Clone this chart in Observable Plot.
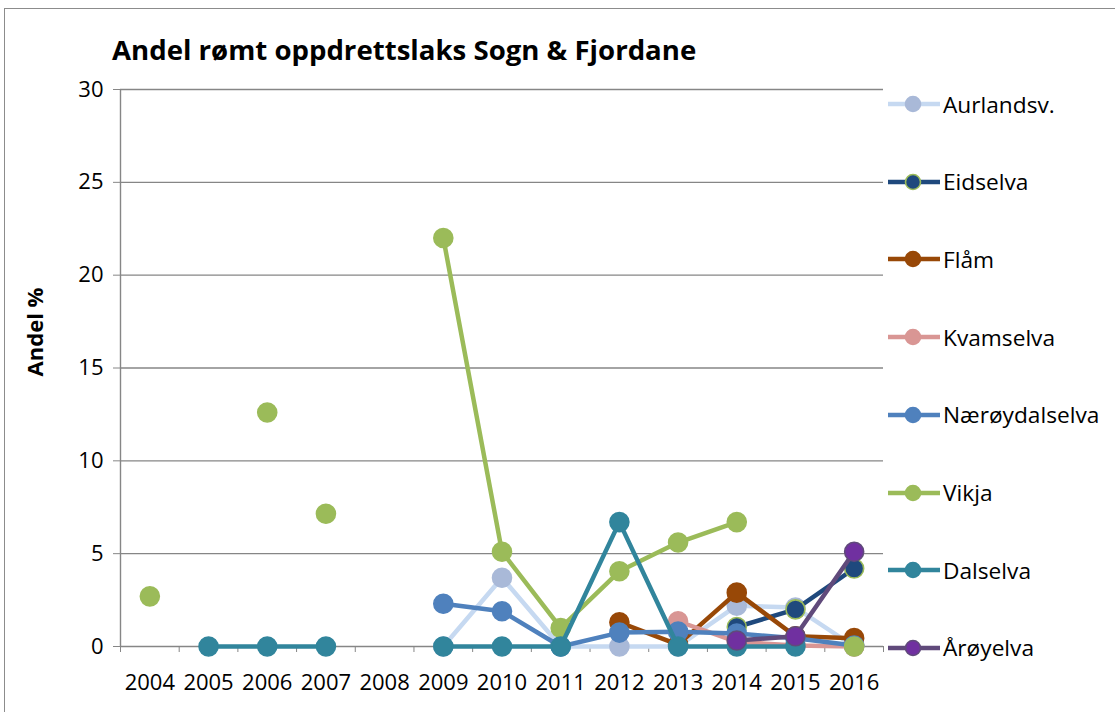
<!DOCTYPE html>
<html>
<head>
<meta charset="utf-8">
<script src="https://cdn.jsdelivr.net/npm/d3@7"></script>
<script src="https://cdn.jsdelivr.net/npm/@observablehq/plot@0.6"></script>
<style>
  html, body { margin: 0; padding: 0; background: #fff; }
  body { width: 1115px; height: 712px; position: relative; overflow: hidden; font-family: "Open Sans", sans-serif; }
  #frame { position: absolute; left: 4px; top: 8px; width: 1120px; height: 720px; border: 1px solid #8c8c8c; box-sizing: border-box; }
  #title { position: absolute; left: 112px; top: 30px; font-size: 27.6px; font-weight: bold; color: #000; white-space: nowrap; }
  #chart { position: absolute; left: 0; top: 60px; }
  #legend { position: absolute; left: 886px; top: 65px; }
  .item { position: absolute; left: 0; height: 30px; display: flex; align-items: center; white-space: nowrap; font-size: 22.7px; color: #000; }
  .item svg { margin-right: 3px; }
</style>
</head>
<body>
<div id="frame"></div>
<div id="title">Andel rømt oppdrettslaks Sogn &amp; Fjordane</div>
<div id="chart"></div>
<div id="legend"></div>
<script>
// ---- data ----
const years = [2004, 2005, 2006, 2007, 2008, 2009, 2010, 2011, 2012, 2013, 2014, 2015, 2016];
const yTicks = [0, 5, 10, 15, 20, 25, 30];
const seriesNames = ["Aurlandsv.", "Eidselva", "Flåm", "Kvamselva", "Nærøydalselva", "Vikja", "Dalselva", "Årøyelva"];

const aurlandsv     = [null, null, null, null, null, 0, 3.7, 0, 0, 0, 2.2, 2.1, 0];
const eidselva      = [null, null, null, null, null, null, null, null, null, null, 1.05, 2.0, 4.2];
const flam          = [null, null, null, null, null, null, null, null, 1.3, 0.1, 2.9, 0.55, 0.45];
const kvamselva     = [null, null, null, null, null, null, null, null, null, 1.36, 0.25, 0.05, 0];
const naeroydalselva= [null, null, null, null, null, 2.3, 1.9, 0, 0.75, 0.8, 0.7, 0.45, 0.05];
const vikja         = [2.7, null, 12.6, 7.15, null, 22.0, 5.1, 1.0, 4.05, 5.6, 6.7, null, 0];
const dalselva      = [null, 0, 0, 0, null, 0, 0, 0, 6.7, 0, 0, 0, null];
const aroyelva      = [null, null, null, null, null, null, null, null, null, null, 0.32, 0.55, 5.1];

// years after which a series' line is not drawn on to the next point
const vikjaLineBreaks = [2006];

const lineColors   = ["#c6d9f1", "#1f497d", "#984807", "#d99694", "#4f81bd", "#9bbb59", "#31859c", "#604a7b"];
const markerFills  = ["#a9b9d8", "#1f497d", "#984807", "#d99694", "#4f81bd", "#9bbb59", "#31859c", "#7030a0"];
const markerStroke = ["#a9b9d8", "#9bbb59", "#984807", "#d99694", "#4f81bd", "#9bbb59", "#31859c", "#604a7b"];

const seriesValues = [aurlandsv, eidselva, flam, kvamselva, naeroydalselva, vikja, dalselva, aroyelva];
const seriesBreaks = [[], [], [], [], [], vikjaLineBreaks, [], []];

// ---- build table ----
const tables = seriesValues.map((vals, si) => {
  let seg = 0;
  return vals.map((v, i) => {
    const row = {year: years[i], value: v, series: seriesNames[si], seg: seriesNames[si] + seg};
    if (v == null || seriesBreaks[si].includes(years[i])) seg++;
    return row;
  });
});

const xDomain = [years[0] - 0.5, years[years.length - 1] + 0.5];
const boundaries = d3.range(xDomain[0], xDomain[1] + 0.01, 1);

const marks = [
  Plot.gridY(yTicks, {stroke: "#868686", strokeOpacity: 1, strokeWidth: 1.4}),
  Plot.ruleX([xDomain[0]], {stroke: "#868686", strokeWidth: 1.4}),
  Plot.axisY({ticks: yTicks, tickSize: 7, tickPadding: 10, stroke: "#868686", fill: "#000", label: null, tickFormat: d => String(d), fontSize: 22}),
  Plot.axisX({ticks: boundaries, tickSize: 6, tickFormat: () => "", stroke: "#868686", label: null}),
  Plot.axisX({ticks: years, tickSize: 0, tickPadding: 28, tickFormat: d => String(d), fill: "#000", label: null, fontSize: 22}),
  Plot.text(["Andel %"], {frameAnchor: "left", textAnchor: "middle", rotate: -90, dx: -85, dy: -36, fontWeight: "bold", fontSize: 22, fill: "#000"})
];

tables.forEach((rows, si) => {
  marks.push(Plot.line(rows, {x: "year", y: "value", z: "seg", stroke: lineColors[si], strokeWidth: 4.5, curve: "linear"}));
  marks.push(Plot.dot(rows.filter(d => d.value != null), {x: "year", y: "value", r: 9.5, fill: markerFills[si], stroke: markerStroke[si], strokeWidth: 1.6}));
});

const chart = Plot.plot({
  width: 890,
  height: 640,
  marginLeft: 120,
  marginRight: 7,
  marginTop: 29,
  marginBottom: 54,
  x: {domain: xDomain},
  y: {domain: [0, 30]},
  style: {fontFamily: "Open Sans", fontSize: "22px", background: "transparent", color: "#000"},
  marks
});
document.getElementById("chart").appendChild(chart);

// ---- legend ----
const legend = document.getElementById("legend");
seriesNames.forEach((name, si) => {
  const item = document.createElement("div");
  item.className = "item";
  item.style.top = (24 + si * 77.7) + "px";
  const ns = "http://www.w3.org/2000/svg";
  const svg = document.createElementNS(ns, "svg");
  svg.setAttribute("width", 54);
  svg.setAttribute("height", 20);
  const line = document.createElementNS(ns, "line");
  line.setAttribute("x1", 2); line.setAttribute("x2", 54);
  line.setAttribute("y1", 10); line.setAttribute("y2", 10);
  line.setAttribute("stroke", lineColors[si]); line.setAttribute("stroke-width", 4.5);
  const c = document.createElementNS(ns, "circle");
  c.setAttribute("cx", 27); c.setAttribute("cy", 10); c.setAttribute("r", 7.5);
  c.setAttribute("fill", markerFills[si]); c.setAttribute("stroke", markerStroke[si]); c.setAttribute("stroke-width", 1.6);
  svg.appendChild(line); svg.appendChild(c);
  const label = document.createElement("span");
  label.textContent = name;
  item.appendChild(svg); item.appendChild(label);
  legend.appendChild(item);
});
</script>
</body>
</html>
